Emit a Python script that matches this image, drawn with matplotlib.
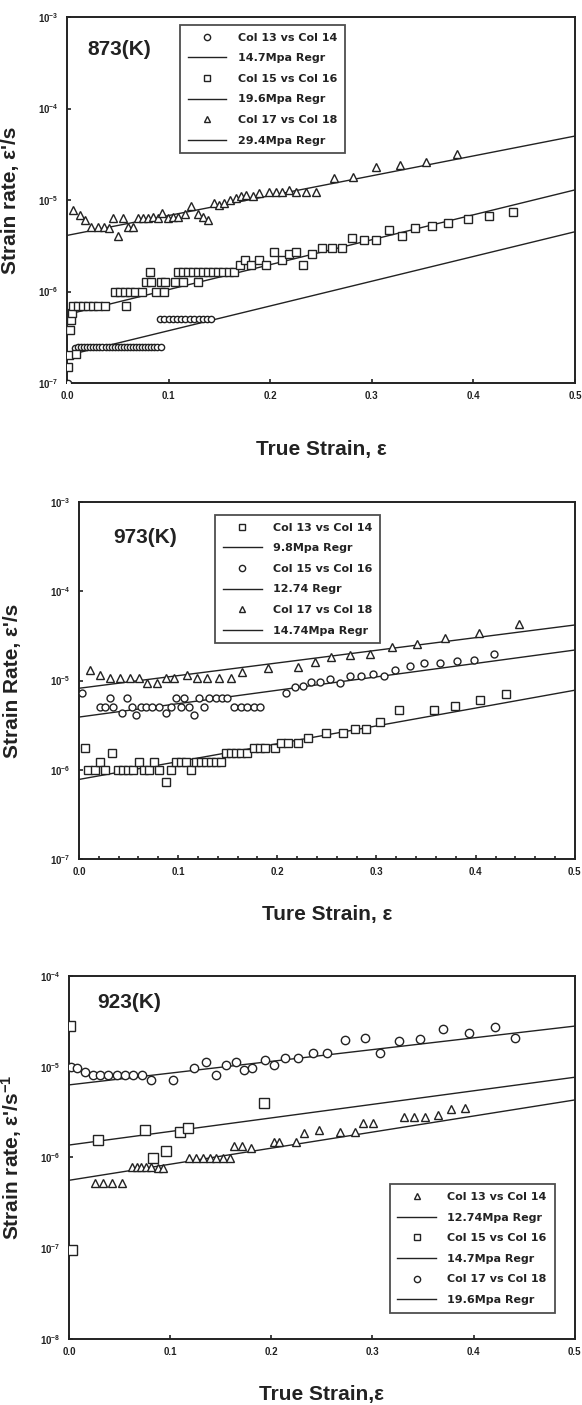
import matplotlib
matplotlib.use("Agg")
import matplotlib.pyplot as plt
from matplotlib.lines import Line2D
from matplotlib.ticker import FixedLocator, MultipleLocator, NullLocator

plt.rcParams['font.family'] = ['Liberation Sans', 'DejaVu Sans']
plt.rcParams['mathtext.default'] = 'regular'

# ---------------- 873 K ----------------
t1_circ_x = [0.001, 0.008, 0.011, 0.014, 0.017, 0.020, 0.023, 0.026, 0.029, 0.032, 0.035,
             0.038, 0.041, 0.044, 0.047, 0.050, 0.053, 0.056, 0.059, 0.062, 0.065, 0.068,
             0.071, 0.074, 0.077, 0.080, 0.083, 0.086, 0.089, 0.093,
             0.092, 0.096, 0.100, 0.104, 0.108, 0.112, 0.116, 0.121, 0.125, 0.130, 0.134,
             0.138, 0.142]
t1_circ_y = [1.0e-7, 2.4e-7, 2.5e-7, 2.5e-7, 2.5e-7, 2.5e-7, 2.5e-7, 2.5e-7, 2.5e-7, 2.5e-7,
             2.5e-7, 2.5e-7, 2.5e-7, 2.5e-7, 2.5e-7, 2.5e-7, 2.5e-7, 2.5e-7, 2.5e-7, 2.5e-7,
             2.5e-7, 2.5e-7, 2.5e-7, 2.5e-7, 2.5e-7, 2.5e-7, 2.5e-7, 2.5e-7, 2.5e-7, 2.5e-7,
             5.0e-7, 5.0e-7, 5.0e-7, 5.0e-7, 5.0e-7, 5.0e-7, 5.0e-7, 5.0e-7, 5.0e-7, 5.0e-7,
             5.0e-7, 5.0e-7, 5.0e-7]
t1_sq_x = [0.001, 0.002, 0.009, 0.003, 0.004, 0.005,
           0.006, 0.011, 0.016, 0.021, 0.026, 0.031, 0.037, 0.0585,
           0.047, 0.052, 0.057, 0.062, 0.067, 0.074,
           0.078, 0.082, 0.083, 0.088, 0.093, 0.096, 0.097,
           0.106, 0.109, 0.114, 0.114, 0.119, 0.124, 0.129, 0.129, 0.134, 0.139, 0.144,
           0.149, 0.154, 0.159, 0.164,
           0.170, 0.175, 0.181, 0.189, 0.196, 0.204,
           0.212, 0.219, 0.225, 0.232, 0.241, 0.251, 0.261, 0.271, 0.281, 0.292, 0.304,
           0.317, 0.330, 0.343, 0.359, 0.375, 0.395, 0.415, 0.439]
t1_sq_y = [1.5e-7, 2.0e-7, 2.1e-7, 3.8e-7, 4.9e-7, 5.8e-7,
           6.9e-7, 6.9e-7, 6.9e-7, 6.9e-7, 6.9e-7, 6.9e-7, 6.9e-7, 6.9e-7,
           1.0e-6, 1.0e-6, 1.0e-6, 1.0e-6, 1.0e-6, 1.0e-6,
           1.28e-6, 1.65e-6, 1.28e-6, 1.0e-6, 1.28e-6, 1.0e-6, 1.28e-6,
           1.28e-6, 1.65e-6, 1.65e-6, 1.28e-6, 1.65e-6, 1.65e-6, 1.65e-6, 1.28e-6, 1.65e-6,
           1.65e-6, 1.65e-6, 1.65e-6, 1.65e-6, 1.65e-6, 1.65e-6,
           1.95e-6, 2.2e-6, 1.95e-6, 2.2e-6, 1.95e-6, 2.7e-6,
           2.2e-6, 2.6e-6, 2.7e-6, 1.95e-6, 2.6e-6, 3.0e-6, 3.0e-6, 3.0e-6, 3.8e-6, 3.7e-6,
           3.7e-6, 4.7e-6, 4.0e-6, 5.0e-6, 5.2e-6, 5.6e-6, 6.2e-6, 6.7e-6, 7.4e-6]
t1_tri_x = [0.006, 0.013, 0.018, 0.024, 0.031, 0.036, 0.041, 0.045, 0.050, 0.055, 0.060,
            0.065, 0.070, 0.075, 0.080, 0.085, 0.090, 0.094, 0.099, 0.104, 0.109, 0.116,
            0.122, 0.129, 0.134, 0.139, 0.145, 0.150, 0.155, 0.160, 0.166, 0.171, 0.176,
            0.183, 0.189, 0.199, 0.206, 0.212, 0.219, 0.225, 0.235, 0.245,
            0.263, 0.282, 0.304, 0.328, 0.353, 0.384]
t1_tri_y = [7.8e-6, 6.9e-6, 6.0e-6, 5.1e-6, 5.1e-6, 5.1e-6, 4.9e-6, 6.3e-6, 4.05e-6, 6.3e-6,
            5.1e-6, 5.1e-6, 6.3e-6, 6.3e-6, 6.3e-6, 6.6e-6, 6.3e-6, 7.3e-6, 6.3e-6, 6.6e-6,
            6.6e-6, 7.1e-6, 8.5e-6, 7.1e-6, 6.6e-6, 6.0e-6, 9.2e-6, 8.8e-6, 9.2e-6, 1.0e-5,
            1.05e-5, 1.1e-5, 1.14e-5, 1.1e-5, 1.18e-5, 1.23e-5, 1.23e-5, 1.23e-5, 1.29e-5,
            1.23e-5, 1.23e-5, 1.23e-5,
            1.73e-5, 1.8e-5, 2.3e-5, 2.4e-5, 2.6e-5, 3.2e-5]
t1_reg_start = [2.0e-7, 5.6e-7, 4.1e-6]
t1_reg_end = [4.5e-6, 1.29e-5, 5.0e-5]

# ---------------- 973 K ----------------
t2_sq_x = [0.006, 0.009, 0.016, 0.021, 0.026, 0.033, 0.039, 0.044, 0.049, 0.054, 0.061,
           0.066, 0.071, 0.076, 0.081, 0.088, 0.093, 0.098, 0.103, 0.108, 0.113, 0.118,
           0.123, 0.128, 0.133, 0.138, 0.143, 0.148, 0.153, 0.158, 0.163, 0.169, 0.176,
           0.183, 0.188, 0.198, 0.204,
           0.211, 0.221, 0.231, 0.249, 0.266, 0.278, 0.289, 0.304, 0.323, 0.358, 0.379,
           0.404, 0.431]
t2_sq_y = [1.74e-6, 9.9e-7, 9.9e-7, 1.23e-6, 9.9e-7, 1.53e-6, 9.9e-7, 9.9e-7, 9.9e-7,
           9.9e-7, 1.23e-6, 9.9e-7, 9.9e-7, 1.23e-6, 9.9e-7, 7.3e-7, 9.9e-7, 1.23e-6,
           1.23e-6, 1.23e-6, 9.9e-7, 1.23e-6, 1.23e-6, 1.23e-6, 1.23e-6, 1.23e-6, 1.23e-6,
           1.53e-6, 1.53e-6, 1.53e-6, 1.53e-6, 1.53e-6, 1.74e-6, 1.74e-6, 1.74e-6, 1.74e-6,
           1.98e-6,
           1.98e-6, 1.98e-6, 2.25e-6, 2.56e-6, 2.56e-6, 2.9e-6, 2.9e-6, 3.46e-6, 4.67e-6,
           4.67e-6, 5.2e-6, 6.0e-6, 7.0e-6]
t2_circ_x = [0.003, 0.021, 0.026, 0.031, 0.034, 0.043, 0.048, 0.053, 0.058, 0.063, 0.068,
             0.074, 0.081, 0.088, 0.093, 0.098, 0.103, 0.106, 0.111, 0.116, 0.121, 0.126,
             0.131, 0.138, 0.144, 0.149, 0.156, 0.163, 0.169, 0.176, 0.183,
             0.209, 0.218, 0.226, 0.234, 0.243, 0.253, 0.263, 0.273, 0.284, 0.296, 0.308,
             0.319, 0.334, 0.348, 0.364, 0.381, 0.398, 0.418]
t2_circ_y = [7.2e-6, 5.1e-6, 5.1e-6, 6.3e-6, 5.1e-6, 4.3e-6, 6.3e-6, 5.1e-6, 4.1e-6, 5.1e-6,
             5.1e-6, 5.1e-6, 5.1e-6, 4.3e-6, 5.1e-6, 6.3e-6, 5.1e-6, 6.3e-6, 5.1e-6, 4.1e-6,
             6.3e-6, 5.1e-6, 6.3e-6, 6.3e-6, 6.3e-6, 6.3e-6, 5.1e-6, 5.1e-6, 5.1e-6, 5.1e-6,
             5.1e-6,
             7.2e-6, 8.5e-6, 8.7e-6, 9.7e-6, 9.7e-6, 1.03e-5, 9.3e-6, 1.12e-5, 1.12e-5, 1.2e-5,
             1.12e-5, 1.33e-5, 1.45e-5, 1.56e-5, 1.58e-5, 1.67e-5, 1.7e-5, 1.98e-5]
t2_tri_x = [0.011, 0.021, 0.031, 0.041, 0.051, 0.061, 0.069, 0.079, 0.088, 0.096, 0.109,
            0.119, 0.129, 0.141, 0.153, 0.164, 0.191,
            0.221, 0.238, 0.254, 0.273, 0.293, 0.316, 0.341, 0.369, 0.403, 0.444]
t2_tri_y = [1.31e-5, 1.15e-5, 1.06e-5, 1.06e-5, 1.06e-5, 1.06e-5, 9.3e-6, 9.3e-6, 1.06e-5,
            1.06e-5, 1.15e-5, 1.06e-5, 1.06e-5, 1.06e-5, 1.06e-5, 1.26e-5, 1.37e-5,
            1.43e-5, 1.63e-5, 1.85e-5, 1.93e-5, 2.0e-5, 2.4e-5, 2.6e-5, 3.0e-5, 3.4e-5, 4.3e-5]
t2_reg_start = [7.8e-7, 3.9e-6, 8.2e-6]
t2_reg_end = [7.8e-6, 2.2e-5, 4.2e-5]

# ---------------- 923 K ----------------
t3_tri_x = [0.026, 0.034, 0.042, 0.052, 0.062, 0.067, 0.071, 0.076, 0.081, 0.088, 0.093,
            0.119, 0.126, 0.132, 0.139, 0.145, 0.152, 0.159, 0.163, 0.171, 0.180,
            0.203, 0.208, 0.224, 0.232, 0.247, 0.268, 0.283, 0.291, 0.301, 0.331, 0.341,
            0.352, 0.365, 0.378, 0.391]
t3_tri_y = [5.2e-7, 5.2e-7, 5.2e-7, 5.2e-7, 7.9e-7, 7.9e-7, 7.9e-7, 7.9e-7, 7.9e-7, 7.6e-7,
            7.6e-7, 9.8e-7, 9.8e-7, 9.8e-7, 9.8e-7, 9.8e-7, 9.8e-7, 9.8e-7, 1.32e-6, 1.32e-6,
            1.26e-6, 1.49e-6, 1.49e-6, 1.49e-6, 1.85e-6, 2.0e-6, 1.92e-6, 1.92e-6, 2.38e-6,
            2.38e-6, 2.8e-6, 2.8e-6, 2.8e-6, 2.94e-6, 3.4e-6, 3.5e-6]
t3_sq_x = [0.001, 0.003, 0.029, 0.075, 0.083, 0.096, 0.110, 0.118, 0.193]
t3_sq_y = [2.8e-5, 9.6e-8, 1.56e-6, 2.0e-6, 9.8e-7, 1.18e-6, 1.92e-6, 2.1e-6, 3.96e-6]
t3_circ_x = [0.002, 0.008, 0.016, 0.024, 0.031, 0.039, 0.047, 0.055, 0.063, 0.072, 0.081,
             0.103, 0.124, 0.135, 0.145, 0.155, 0.165, 0.173, 0.181, 0.194, 0.203,
             0.214, 0.226, 0.241, 0.255, 0.273, 0.293, 0.307, 0.326, 0.347, 0.370, 0.395,
             0.421, 0.441]
t3_circ_y = [1.0e-5, 9.6e-6, 8.8e-6, 8.1e-6, 8.1e-6, 8.1e-6, 8.1e-6, 8.1e-6, 8.1e-6, 8.1e-6,
             7.1e-6, 7.1e-6, 9.6e-6, 1.14e-5, 8.1e-6, 1.04e-5, 1.14e-5, 9.2e-6, 9.6e-6,
             1.19e-5, 1.04e-5,
             1.24e-5, 1.24e-5, 1.43e-5, 1.41e-5, 1.97e-5, 2.06e-5, 1.43e-5, 1.94e-5, 2.0e-5,
             2.6e-5, 2.37e-5, 2.72e-5, 2.06e-5]
t3_reg_start = [5.6e-7, 1.37e-6, 6.3e-6]
t3_reg_end = [4.3e-6, 7.65e-6, 2.8e-5]

strain_ends = [0.0, 0.5]
x_ticks = [0.0, 0.1, 0.2, 0.3, 0.4, 0.5]
x_tick_labels = ['0.0', '0.1', '0.2', '0.3', '0.4', '0.5']

INK = '#222222'


def style_axes(ax, ymin_exp, ymax_exp, minor_x):
    ax.set_yscale('log')
    ax.set_xlim(0, 0.5)
    ax.set_ylim(10.0 ** ymin_exp, 10.0 ** ymax_exp)
    exps = list(range(ymin_exp, ymax_exp + 1))
    ax.yaxis.set_major_locator(FixedLocator([10.0 ** e for e in exps]))
    ax.set_yticklabels(['10$^{%d}$' % e for e in exps])
    ax.yaxis.set_minor_locator(NullLocator())
    ax.set_xticks(x_ticks)
    ax.set_xticklabels(x_tick_labels)
    if minor_x:
        ax.xaxis.set_minor_locator(MultipleLocator(0.02))
    ax.tick_params(which='both', direction='in', length=3, width=1.2, colors=INK,
                   labelsize=7, pad=6)
    ax.tick_params(which='minor', length=2)
    for lab in ax.get_xticklabels() + ax.get_yticklabels():
        lab.set_fontweight('bold')
    for s in ax.spines.values():
        s.set_linewidth(1.4)
        s.set_color(INK)


def draw_series(ax, xs, ys, marker, ms):
    ax.plot(xs, ys, linestyle='none', marker=marker, ms=ms, mfc='white',
            mec=INK, mew=1.0, zorder=3)


def draw_regs(ax, starts, ends):
    for a, b in zip(starts, ends):
        ax.plot(strain_ends, [a, b], color=INK, lw=1.0, zorder=2)


def add_legend(ax, markers, labels, loc, anchor):
    handles = []
    for m in markers:
        handles.append(Line2D([], [], linestyle='none', marker=m, ms=4.5, mfc='white',
                              mec=INK, mew=1.0))
        handles.append(Line2D([], [], color=INK, lw=1.0))
    leg = ax.legend(handles, labels, loc=loc, bbox_to_anchor=anchor,
                    prop={'family': 'DejaVu Sans', 'size': 8, 'weight': 'bold'},
                    frameon=True, fancybox=False, edgecolor=INK, handlelength=3.5,
                    handletextpad=1.0, labelspacing=0.95, borderpad=0.7,
                    borderaxespad=0)
    leg.get_frame().set_linewidth(1.3)
    for t in leg.get_texts():
        t.set_color(INK)


fig = plt.figure(figsize=(5.82, 14.05), dpi=100)

# ----- panel 1: 873 K -----
ax1 = fig.add_axes([0.115, 0.7274, 0.873, 0.2605])
style_axes(ax1, -7, -3, False)
draw_regs(ax1, t1_reg_start, t1_reg_end)
draw_series(ax1, t1_circ_x, t1_circ_y, 'o', 4.5)
draw_series(ax1, t1_sq_x, t1_sq_y, 's', 6)
draw_series(ax1, t1_tri_x, t1_tri_y, '^', 5.5)
ax1.text(0.041, 0.91, '873(K)', transform=ax1.transAxes, fontsize=15, va='center',
         fontweight='bold', color=INK)
add_legend(ax1, ['o', 's', '^'],
           ['Col 13 vs Col 14', '14.7Mpa Regr', 'Col 15 vs Col 16', '19.6Mpa Regr',
            'Col 17 vs Col 18', '29.4Mpa Regr'], 'upper left', (0.222, 0.978))
ax1.set_ylabel("Strain rate, ε'/s", fontsize=15, fontweight='bold', color=INK)
ax1.yaxis.set_label_coords(-0.093, 0.5)
ax1.set_xlabel('True Strain, ε', fontsize=15, fontweight='bold', color=INK)
ax1.xaxis.set_label_coords(0.5, -0.156)

# ----- panel 2: 973 K -----
ax2 = fig.add_axes([0.1357, 0.3886, 0.852, 0.254])
style_axes(ax2, -7, -3, True)
draw_regs(ax2, t2_reg_start, t2_reg_end)
draw_series(ax2, t2_sq_x, t2_sq_y, 's', 6)
draw_series(ax2, t2_circ_x, t2_circ_y, 'o', 5)
draw_series(ax2, t2_tri_x, t2_tri_y, '^', 5.5)
ax2.text(0.069, 0.902, '973(K)', transform=ax2.transAxes, fontsize=15, va='center',
         fontweight='bold', color=INK)
add_legend(ax2, ['s', 'o', '^'],
           ['Col 13 vs Col 14', '9.8Mpa Regr', 'Col 15 vs Col 16', '12.74 Regr',
            'Col 17 vs Col 18', '14.74Mpa Regr'], 'upper left', (0.274, 0.964))
ax2.set_ylabel("Strain Rate, ε'/s", fontsize=15, fontweight='bold', color=INK)
ax2.yaxis.set_label_coords(-0.115, 0.5)
ax2.set_xlabel('Ture Strain, ε', fontsize=15, fontweight='bold', color=INK)
ax2.xaxis.set_label_coords(0.5, -0.129)

# ----- panel 3: 923 K -----
ax3 = fig.add_axes([0.1186, 0.047, 0.869, 0.2584])
style_axes(ax3, -8, -4, False)
draw_regs(ax3, t3_reg_start, t3_reg_end)
draw_series(ax3, t3_tri_x, t3_tri_y, '^', 5.5)
draw_series(ax3, t3_sq_x, t3_sq_y, 's', 6.5)
draw_series(ax3, t3_circ_x, t3_circ_y, 'o', 6)
ax3.text(0.055, 0.926, '923(K)', transform=ax3.transAxes, fontsize=15, va='center',
         fontweight='bold', color=INK)
add_legend(ax3, ['^', 's', 'o'],
           ['Col 13 vs Col 14', '12.74Mpa Regr', 'Col 15 vs Col 16', '14.7Mpa Regr',
            'Col 17 vs Col 18', '19.6Mpa Regr'], 'lower left', (0.634, 0.072))
ax3.set_ylabel("Strain rate, ε'/s$^{-1}$", fontsize=15, fontweight='bold', color=INK)
ax3.yaxis.set_label_coords(-0.089, 0.5)
ax3.set_xlabel('True Strain,ε', fontsize=15, fontweight='bold', color=INK)
ax3.xaxis.set_label_coords(0.5, -0.127)

fig.savefig('out.png', dpi=100, facecolor='white')
